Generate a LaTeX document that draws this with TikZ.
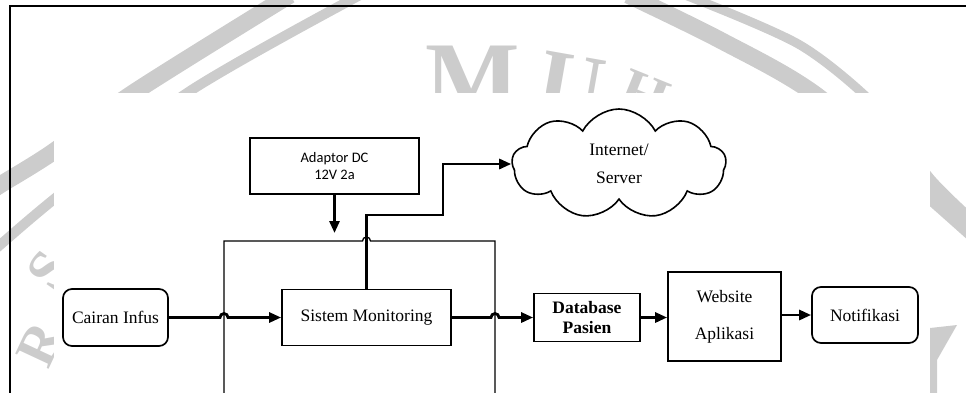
\documentclass[tikz,border=0pt]{standalone}
\usepackage{fontspec}
\setmainfont{Liberation Serif}
\newfontfamily\calibri{Carlito}
\usetikzlibrary{arrows.meta,shapes.symbols}
\definecolor{wmgrey}{RGB}{204,204,204}

\tikzset{
  box/.style={draw, line width=1.7pt, inner sep=0pt, align=center,
    font=\fontsize{17.5}{21}\selectfont},
  rbox/.style={box, rounded corners=9pt},
  flow/.style={line width=2.8pt, -{Triangle[length=12pt,width=10pt]}},
  plainline/.style={line width=1.3pt},
  framestroke/.style={line width=2.6pt},
  wmband/.style={draw=wmgrey, line cap=butt},
  wmletter/.style={text=wmgrey, inner sep=0pt, font=\bfseries\fontsize{100}{100}\selectfont}
}

\begin{document}
\begin{tikzpicture}[x=1pt,y=-1pt]
\useasboundingbox (0,0) rectangle (966,392);

% faint seal in the background
\draw[wmband, line width=17pt] plot[smooth] coordinates {(-10,192) (0,185) (53,152) (133,93) (290,-5)};
\draw[wmband, line width=10pt] plot[smooth] coordinates {(-10,254) (0,245) (53,200) (187,93) (360,-5)};
\draw[wmband, line width=17pt] plot[smooth] coordinates {(628,-5) (720,40) (816,95) (930,195) (975,235)};
\draw[wmband, line width=9pt] plot[smooth] coordinates {(685,-5) (800,45) (880,110) (930,178) (975,222)};
\fill[wmgrey] (930,328) -- (957,325) -- (937,360) -- (937,395) -- (930,395) -- cycle;
\node[wmletter, anchor=north west] (wmM) at (425,46) {M};
\node[wmletter, anchor=north west, rotate=-10, font=\bfseries\fontsize{90}{90}\selectfont] (wmU) at (545,50) {U};
\node[wmletter, anchor=north west, rotate=-22, font=\bfseries\fontsize{60}{60}\selectfont] (wmH) at (630,68) {H};
\node[wmletter, rotate=65, font=\bfseries\fontsize{56}{56}\selectfont] (wmR) at (40,344) {R};
\node[wmletter, rotate=55, font=\bfseries\fontsize{56}{56}\selectfont] (wmS) at (48,270) {S};

% white sheet carrying the diagram
\fill[white] (54,93) rectangle (930,396);

% page frame
\draw[framestroke] (10,396) -- (10,6) -- (970,6);

% blocks
\node[rbox, minimum width=105pt, minimum height=57pt] (cairan) at (115.5,317.5) {Cairan Infus};
\node[box, minimum width=169pt, minimum height=56pt] (sistem) at (366.5,317.5) {Sistem Monitoring};
\node[box, minimum width=169pt, minimum height=56pt, font=\calibri\fontsize{14.5}{17}\selectfont] (adaptor) at (334.5,166) {Adaptor DC\\12V 2a};
\node[draw, line width=1.6pt, cloud, cloud puffs=9, cloud puff arc=125, aspect=1.9,
      minimum width=214pt, minimum height=110pt, inner sep=0pt, align=center,
      font=\fontsize{17.5}{28}\selectfont] (cloud) at (619,164) {Internet/\\Server};
\node[box, minimum width=106pt, minimum height=48pt, font=\bfseries\fontsize{17.5}{20}\selectfont] (db) at (587,317.5) {Database\\Pasien};
\node[box, minimum width=113pt, minimum height=89pt] (web) at (724.5,316.5) {Website\\[16pt]Aplikasi};
\node[rbox, minimum width=106pt, minimum height=56pt] (notif) at (865,315) {Notifikasi};

% housing around the monitoring unit (open at the bottom)
\coordinate (houseBL) at (224,396);
\coordinate (houseBR) at (495,396);
\coordinate (hopTop) at (362.5,241);
\draw[plainline] (houseBL) -- (224,241) -- (hopTop)
  arc[start angle=180, end angle=360, radius=4] -- (495,241) -- (houseBR);

% connectors
\coordinate (pwrIn) at (334.5,233);
\draw[flow] (adaptor.south) -- (pwrIn);

\coordinate (hopL) at (220,317.5);
\draw[flow] (cairan.east) -- (hopL) arc[start angle=180, end angle=360, radius=4] -- (sistem.west);

\coordinate (hopR) at (491,317.5);
\draw[flow] (sistem.east) -- (hopR) arc[start angle=180, end angle=360, radius=4] -- (db.west);

\coordinate (upBend) at (443,215);
\draw[flow] (sistem.north) -- (sistem.north |- upBend) -- (upBend) |- (cloud.west);

\draw[flow] (db.east) -- (db.east -| web.west);
\draw[flow] (web.east |- notif.west) -- (notif.west);
\end{tikzpicture}
\end{document}
